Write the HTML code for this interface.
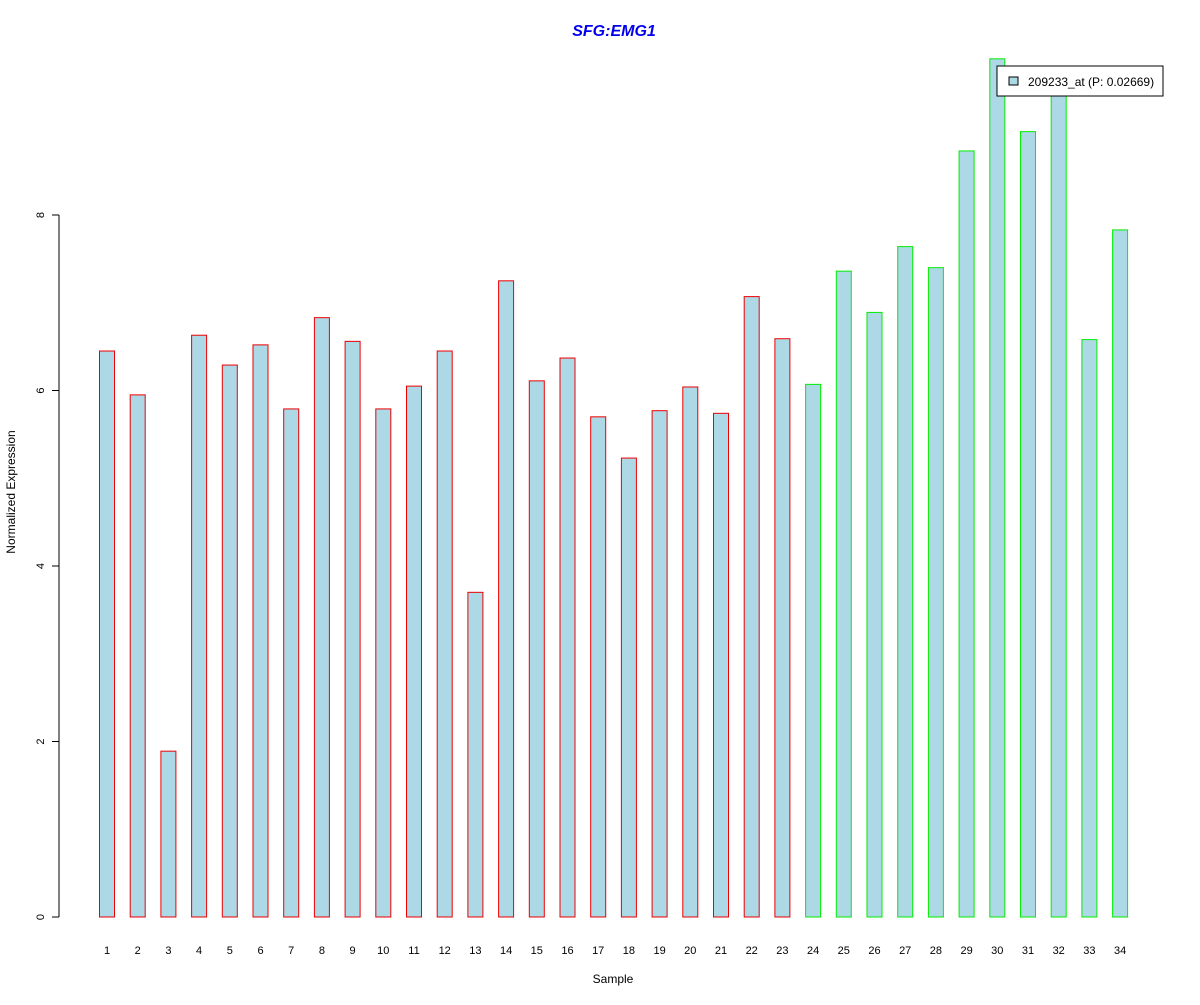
<!DOCTYPE html>
<html><head><meta charset="utf-8"><style>
body{margin:0;background:#fff;}
svg text{font-family:"Liberation Sans",Arial,sans-serif;}
</style></head><body>
<svg id="chart" width="1200" height="1000" xmlns="http://www.w3.org/2000/svg">
<text x="614" y="36" text-anchor="middle" font-size="16" font-weight="bold" font-style="italic" fill="#0000ee">SFG:EMG1</text>
<g id="bars"></g>
<g id="yaxis"></g>
<g id="xlabels"></g>
<text x="613" y="983" text-anchor="middle" font-size="12">Sample</text>
<text transform="translate(15,492) rotate(-90)" text-anchor="middle" font-size="12">Normalized Expression</text>
<g>
<rect x="997" y="66" width="166" height="30" fill="#fff" stroke="#000"/>
<rect x="1009" y="77" width="9" height="8" fill="#add8e6" stroke="#000"/>
<text x="1028" y="86" font-size="12">209233_at (P: 0.02669)</text>
</g>
</svg>
<script>
const samples=["1","2","3","4","5","6","7","8","9","10","11","12","13","14","15","16","17","18","19","20","21","22","23","24","25","26","27","28","29","30","31","32","33","34"];
const values=[6.45,5.95,1.89,6.63,6.29,6.52,5.79,6.83,6.56,5.79,6.05,6.45,3.70,7.25,6.11,6.37,5.70,5.23,5.77,6.04,5.74,7.07,6.59,6.07,7.36,6.89,7.64,7.40,8.73,9.78,8.95,9.45,6.58,7.83];
const groups=["a","a","a","a","a","a","a","a","a","a","a","a","a","a","a","a","a","a","a","a","a","a","a","b","b","b","b","b","b","b","b","b","b","b"];
const yTicks=[0,2,4,6,8];
const NS="http://www.w3.org/2000/svg";
const y=v=>917-v*87.75;
const x=i=>107+i*30.7;
const bars=document.getElementById('bars');
samples.forEach((s,i)=>{
  const r=document.createElementNS(NS,'rect');
  
  
  r.setAttribute('x',x(i)-7.5);r.setAttribute('width',15);
  r.setAttribute('y',y(values[i]));r.setAttribute('height',y(0)-y(values[i]));
  r.setAttribute('fill','#add8e6');
  r.setAttribute('stroke',groups[i]==='a'?'#ee0000':'#00ee00');
  bars.appendChild(r);
  const t=document.createElementNS(NS,'text');
  
  
  t.setAttribute('x',x(i));t.setAttribute('y',954);t.setAttribute('text-anchor','middle');t.setAttribute('font-size','11');
  t.textContent=s;
  document.getElementById('xlabels').appendChild(t);
});
const ya=document.getElementById('yaxis');
const ax=document.createElementNS(NS,'line');


ax.setAttribute('x1',59);ax.setAttribute('x2',59);ax.setAttribute('y1',y(0));ax.setAttribute('y2',y(8));ax.setAttribute('stroke','#000');
ya.appendChild(ax);
yTicks.forEach(v=>{
  const l=document.createElementNS(NS,'line');
  
  
  l.setAttribute('x1',52);l.setAttribute('x2',59);l.setAttribute('y1',y(v));l.setAttribute('y2',y(v));l.setAttribute('stroke','#000');
  ya.appendChild(l);
  const t=document.createElementNS(NS,'text');
  
  
  t.setAttribute('transform','translate(44,'+y(v)+') rotate(-90)');
  t.setAttribute('text-anchor','middle');t.setAttribute('font-size','11');
  t.textContent=v;
  ya.appendChild(t);
});
</script>
</body></html>
